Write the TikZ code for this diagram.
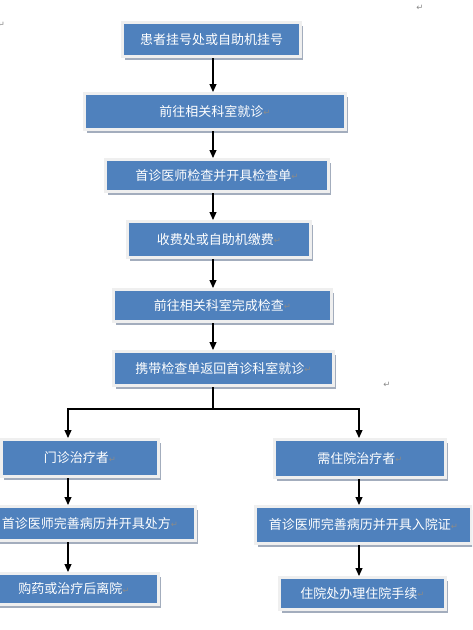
\documentclass[tikz,border=0pt]{standalone}
\usepackage{fontspec}
\setmainfont{Noto Sans CJK SC}
\newfontfamily\symfont{DejaVu Sans}
\usetikzlibrary{arrows.meta,shadows}
\definecolor{boxblue}{HTML}{4F81BD}
\definecolor{rimgray}{HTML}{EFEFEF}
\definecolor{shadegray}{HTML}{A3ADBD}
\definecolor{pmgray}{HTML}{8A8A8A}
\newcommand{\pmk}{\raisebox{0.8pt}{\symfont\fontsize{8.5}{8.5}\selectfont\textcolor{pmgray}{↵}}}
\tikzset{
  flowbox/.style={rectangle, fill=boxblue, draw=rimgray, line width=3pt,
    text=white, font=\fontsize{13}{15}\selectfont, inner sep=0pt,
    drop shadow={shadow xshift=2.5pt, shadow yshift=-3pt, fill=shadegray, opacity=1}},
  arr/.style={draw=black, line width=1.1pt, -{Triangle[width=7pt,length=8pt]}},
  plainline/.style={draw=black, line width=1.1pt},
  strayp/.style={inner sep=0pt}
}
\begin{document}
\begin{tikzpicture}[x=1pt,y=-1pt]
\useasboundingbox (0,0) rectangle (472,630);
\clip (0,0) rectangle (472,630);
\coordinate (cx) at (213,0);
\coordinate (lx) at (68,0);
\coordinate (rx) at (359,0);
\coordinate (split) at (213,409);

\node[flowbox, minimum width=178pt, minimum height=34pt] (b1) at (211.5,39.5) {患者挂号处或自助机挂号};
\node[flowbox, minimum width=261pt, minimum height=36pt] (b2) at (215,111.5) {前往相关科室就诊\pmk};
\node[flowbox, minimum width=223pt, minimum height=32pt] (b3) at (217,175.5) {首诊医师检查并开具检查单\pmk};
\node[flowbox, minimum width=183pt, minimum height=36pt] (b4) at (219,239.5) {收费处或自助机缴费\pmk};
\node[flowbox, minimum width=218pt, minimum height=32pt] (b5) at (222.5,305.5) {前往相关科室完成检查\pmk};
\node[flowbox, minimum width=220pt, minimum height=34pt] (b6) at (223.5,368.5) {携带检查单返回首诊科室就诊\pmk};
\node[flowbox, minimum width=157pt, minimum height=37pt] (b7) at (80,458) {门诊治疗者\pmk};
\node[flowbox, minimum width=171pt, minimum height=38pt] (b8) at (360,458.5) {需住院治疗者\pmk};
\node[flowbox, minimum width=211pt, minimum height=34pt] (b9) at (90,523.5) {首诊医师完善病历并开具处方\pmk};
\node[flowbox, minimum width=216pt, minimum height=37pt] (b10) at (363.5,525) {首诊医师完善病历并开具入院证\pmk};
\node[flowbox, minimum width=169pt, minimum height=31pt] (b11) at (74,589) {购药或治疗后离院\pmk};
\node[flowbox, minimum width=166pt, minimum height=32pt] (b12) at (362.5,593.5) {住院处办理住院手续\pmk};

\node[strayp] (p1) at (420,8) {\pmk};
\node[strayp] (p2) at (1.5,25) {\pmk};
\node[strayp] (p3) at (387,385) {\pmk};

\draw[arr] (b1.south -| cx) -- (b2.north -| cx);
\draw[arr] (b2.south -| cx) -- (b3.north -| cx);
\draw[arr] (b3.south -| cx) -- (b4.north -| cx);
\draw[arr] (b4.south -| cx) -- (b5.north -| cx);
\draw[arr] (b5.south -| cx) -- (b6.north -| cx);
\draw[plainline] (b6.south -| cx) -- (split);
\draw[arr] (split) -| (b7.north -| lx);
\draw[arr] (split) -| (b8.north -| rx);
\draw[arr] (b7.south -| lx) -- (b9.north -| lx);
\draw[arr] (b9.south -| lx) -- (b11.north -| lx);
\draw[arr] (b8.south -| rx) -- (b10.north -| rx);
\draw[arr] (b10.south -| rx) -- (b12.north -| rx);
\end{tikzpicture}
\end{document}
